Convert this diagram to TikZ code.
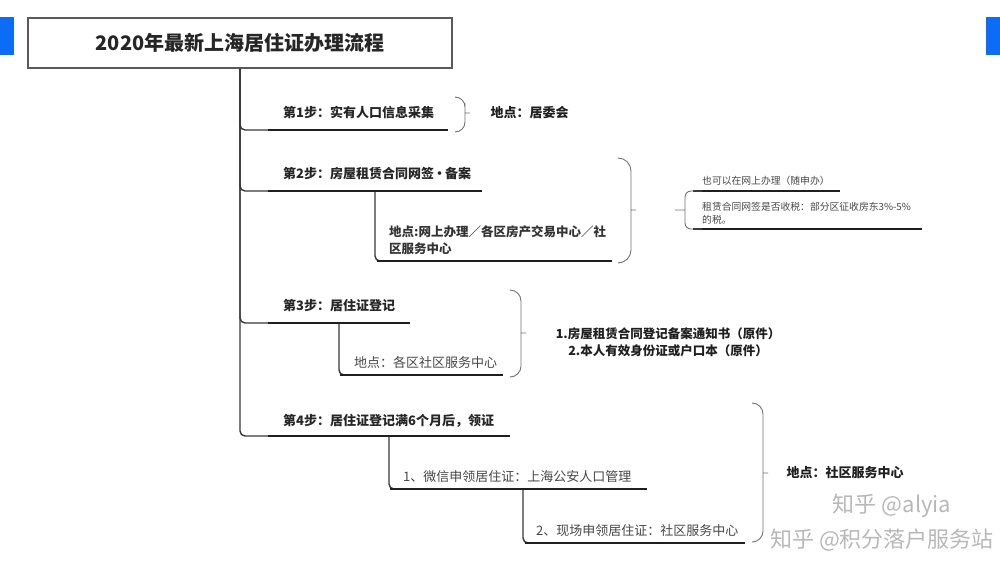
\documentclass[tikz,border=0pt]{standalone}
\usepackage{fontspec}
\setmainfont{Noto Sans CJK SC}
\definecolor{tabblue}{RGB}{12,108,245}

\begin{document}
\begin{tikzpicture}[x=1pt,y=-1pt,
  headbox/.style={draw=black!65,line width=1.4pt,minimum width=424pt,minimum height=50pt,font=\fontsize{20}{24}\selectfont\bfseries,text=black!85},
  steptext/.style={anchor=south west,inner xsep=0pt,inner ysep=12pt,text depth=0pt,font=\fontsize{13}{17}\selectfont\bfseries,text=black!85},
  subtext/.style={anchor=south west,inner xsep=0pt,inner ysep=7pt,text depth=0pt,align=left,font=\fontsize{13}{17}\selectfont,text=black!72},
  notetext/.style={anchor=south west,inner xsep=0pt,inner ysep=6pt,text depth=0pt,align=left,font=\fontsize{9.8}{13}\selectfont,text=black!72},
  locationtext/.style={font=\fontsize{13}{17}\selectfont\bfseries,text=black!88},
  uline/.style={line width=2.6pt,black!88},
  branchline/.style={line width=1.4pt,black!78,rounded corners=5pt,to path={|- (\tikztotarget)}},
  parenline/.style={line width=0.9pt,black!55},
  watermark/.style={font=\fontsize{22}{26}\selectfont,text=black!28}]
  \fill[white] (0,0) rectangle (1000,565);
  \fill[tabblue] (0,17) rectangle (14,55);
  \fill[tabblue] (986,17) rectangle (1000,55);

  \node[headbox] (title) at (240,43) {2020年最新上海居住证办理流程};
  \node[steptext] (s_1) at (283,130) {第1步：实有人口信息采集};
  \node[steptext] (s_2) at (283,191) {第2步：房屋租赁合同网签\kern-1pt•\kern-1pt备案};
  \node[subtext,font=\fontsize{12.5}{17}\selectfont\bfseries,text=black!80] (s_2a) at (389,261) {地点:网上办理／各区房产交易中心／社\\区服务中心};
  \node[steptext] (s_3) at (283,323) {第3步：居住证登记};
  \node[subtext] (s_3a) at (354,375) {地点：各区社区服务中心};
  \node[steptext,inner ysep=10pt] (s_4) at (283,436) {第4步：居住证登记满6个月后，领证};
  \node[subtext] (s_4a) at (403,489) {1、微信申领居住证：上海公安人口管理};
  \node[subtext] (s_4b) at (536,543) {2、现场申领居住证：社区服务中心};
  \node[notetext] (r_1) at (702,191) {也可以在网上办理（随申办）};
  \node[notetext,inner ysep=5pt] (r_2) at (702,229) {租赁合同网签是否收税：部分区征收房东3\%-5\%\\的税。};
  \node[locationtext,anchor=west] (loc_1) at (487,113) {地点：居委会};
  \node[locationtext,align=center,font=\fontsize{12.5}{17}\selectfont\bfseries] (loc_3) at (668,342) {1.房屋租赁合同登记备案通知书（原件）\\2.本人有效身份证或户口本（原件）};
  \node[locationtext,anchor=west] (loc_4) at (783,473) {地点：社区服务中心};

  \path[branchline] (title.south) edge (s_1.south west) edge (s_2.south west)
                                   edge (s_3.south west) edge (s_4.south west);
  \path[branchline] ([xshift=92pt]s_2.south west) edge (s_2a.south west);
  \path[branchline] ([xshift=56pt]s_3.south west) edge (s_3a.south west);
  \path[branchline] ([xshift=106pt]s_4.south west) edge (s_4a.south west);
  \path[branchline] ([xshift=120pt]s_4a.south west) edge (s_4b.south west);

  \draw[uline] ([xshift=-15pt]s_1.south west) -- +(180,0);
  \draw[uline] ([xshift=-15pt]s_2.south west) -- +(214,0);
  \draw[uline] ([xshift=-12pt]s_2a.south west) -- +(235,0);
  \draw[uline] ([xshift=-15pt]s_3.south west) -- +(142,0);
  \draw[uline] ([xshift=-14pt]s_3a.south west) -- +(163,0);
  \draw[uline] ([xshift=-15pt]s_4.south west) -- +(242,0);
  \draw[uline] ([xshift=-13pt]s_4a.south west) -- +(257,0);
  \draw[uline] ([xshift=-11pt]s_4b.south west) -- +(220,0);
  \draw[uline] ([xshift=-9pt]r_1.south west) -- +(147,0);
  \draw[uline] ([xshift=-9pt]r_2.south west) -- +(229,0);

  \draw[parenline,rounded corners=10pt] (455,97) -| (465,113) |- (455,132) (465,113) -- (470,113);
  \draw[parenline,rounded corners=13pt] (618,158) -| (631,210) |- (618,263) (631,210) -- (636,210);
  \draw[parenline,rounded corners=11pt] (510,290) -| (521,333) |- (510,377) (521,333) -- (526,333);
  \draw[parenline,rounded corners=11pt] (752,403) -| (763,473) |- (752,542) (763,473) -- (768,473);
  \draw[parenline,rounded corners=6pt] (r_1.south west) -| (685,210) |- (r_2.south west) (675,210) -- (685,210);

  \node[watermark] (wm_1) at (892,506) {知乎 @alyia};
  \node[watermark] (wm_2) at (882,540) {知乎 @积分落户服务站};
\end{tikzpicture}
\end{document}
